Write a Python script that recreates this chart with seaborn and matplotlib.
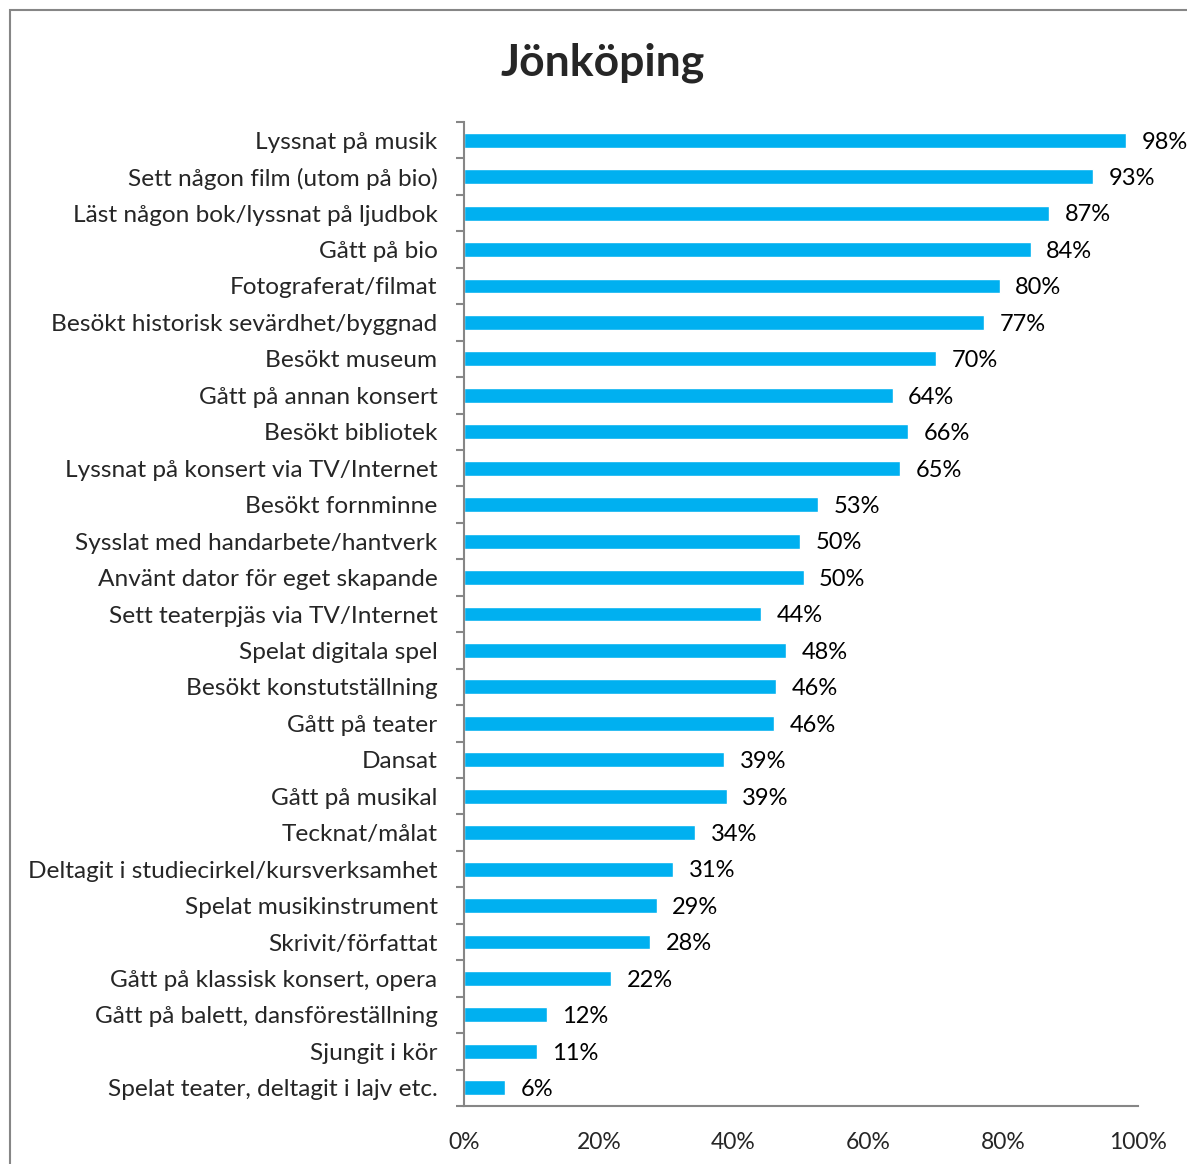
import matplotlib.pyplot as plt
import pandas as pd
import seaborn as sns
from matplotlib.patches import Rectangle

# Activities and share of respondents
activities = [
    "Lyssnat på musik",
    "Sett någon film (utom på bio)",
    "Läst någon bok/lyssnat på ljudbok",
    "Gått på bio",
    "Fotograferat/filmat",
    "Besökt historisk sevärdhet/byggnad",
    "Besökt museum",
    "Gått på annan konsert",
    "Besökt bibliotek",
    "Lyssnat på konsert via TV/Internet",
    "Besökt fornminne",
    "Sysslat med handarbete/hantverk",
    "Använt dator för eget skapande",
    "Sett teaterpjäs via TV/Internet",
    "Spelat digitala spel",
    "Besökt konstutställning",
    "Gått på teater",
    "Dansat",
    "Gått på musikal",
    "Tecknat/målat",
    "Deltagit i studiecirkel/kursverksamhet",
    "Spelat musikinstrument",
    "Skrivit/författat",
    "Gått på klassisk konsert, opera",
    "Gått på balett, dansföreställning",
    "Sjungit i kör",
    "Spelat teater, deltagit i lajv etc.",
]
shares = [98.2, 93.3, 86.8, 84.1, 79.5, 77.2, 70.0, 63.6, 65.9, 64.7, 52.5, 49.9, 50.4,
          44.1, 47.8, 46.3, 46.0, 38.6, 39.0, 34.3, 31.0, 28.6, 27.6, 21.8, 12.3, 10.8, 6.1]
value_labels = ["98%", "93%", "87%", "84%", "80%", "77%", "70%", "64%", "66%", "65%", "53%",
                "50%", "50%", "44%", "48%", "46%", "46%", "39%", "39%", "34%", "31%", "29%",
                "28%", "22%", "12%", "11%", "6%"]
x_ticks = [0, 20, 40, 60, 80, 100]

df = pd.DataFrame({"activity": activities, "share": shares})

sns.set_style("white")
plt.rcParams["font.family"] = ["Lato", "DejaVu Sans"]

fig = plt.figure(figsize=(11.87, 11.64), dpi=100)
ax = fig.add_axes([0.3909, 0.0498, 0.5678, 0.8454])

sns.barplot(data=df, x="share", y="activity", color="#00B0F0", saturation=1,
            width=0.41, ax=ax, orient="h")

for i, (v, lab) in enumerate(zip(shares, value_labels)):
    ax.text(v + 2.3, i + 0.05, lab, va="center", ha="left", fontsize=17, color="black")

ax.set_xlim(0, 100)
ax.set_ylim(len(activities) - 0.5, -0.5)
ax.set_xticks(x_ticks)
ax.set_xticklabels([f"{t}%" for t in x_ticks], fontsize=16.5)
ax.set_xlabel("")
ax.set_ylabel("")
ax.tick_params(axis="y", labelsize=17.6, length=0, pad=19)
ax.tick_params(axis="x", length=6, width=1.5, color="#868686", pad=13, direction="out")

# y ticks at category boundaries
ax.set_yticks([i + 0.5 for i in range(-1, len(activities))], minor=True)
ax.tick_params(axis="y", which="minor", length=6, width=1.5, color="#868686",
               direction="out", left=True)
ax.tick_params(axis="y", which="major", left=False)

for side in ["top", "right"]:
    ax.spines[side].set_visible(False)
for side in ["left", "bottom"]:
    ax.spines[side].set_color("#868686")
    ax.spines[side].set_linewidth(1.5)

fig.text(0.508, 0.946, "Jönköping", ha="center", va="center", fontsize=32,
         fontweight="bold")

# outer chart frame (only left and top visible in the crop)
fig.patches.append(Rectangle((10 / 1187, -0.1), 1.2, 1.1 - 10 / 1164,
                             transform=fig.transFigure, fill=False,
                             edgecolor="#868686", linewidth=1.5))

fig.savefig("out.png", dpi=100)
